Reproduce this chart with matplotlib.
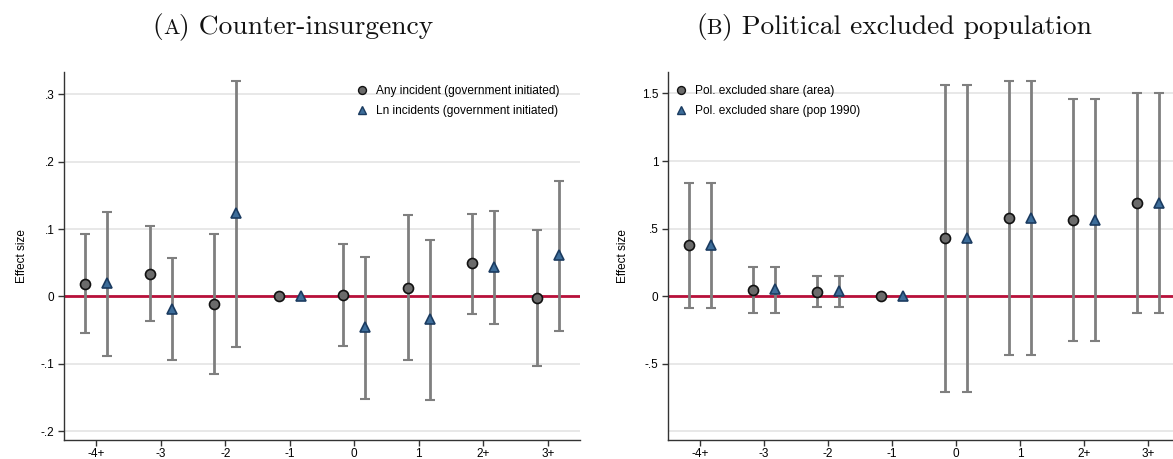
import matplotlib
matplotlib.use("Agg")
import matplotlib.pyplot as plt
import numpy as np
from matplotlib.offsetbox import TextArea, HPacker, AnchoredOffsetbox

# Event-time categories
periods = ["-4+", "-3", "-2", "-1", "0", "1", "2+", "3+"]

# Panel A: counter-insurgency
a_any = [0.019, 0.034, -0.011, 0.0, 0.002, 0.013, 0.049, -0.003]
a_any_lo = [-0.054, -0.036, -0.115, np.nan, -0.073, -0.094, -0.026, -0.103]
a_any_hi = [0.093, 0.105, 0.093, np.nan, 0.078, 0.121, 0.123, 0.098]
a_ln = [0.020, -0.018, 0.124, 0.0, -0.045, -0.034, 0.044, 0.061]
a_ln_lo = [-0.088, -0.095, -0.075, np.nan, -0.152, -0.153, -0.041, -0.051]
a_ln_hi = [0.126, 0.057, 0.320, np.nan, 0.059, 0.084, 0.127, 0.171]

# Panel B: political excluded population
b_area = [0.375, 0.045, 0.034, 0.0, 0.427, 0.577, 0.562, 0.690]
b_area_lo = [-0.086, -0.128, -0.079, np.nan, -0.712, -0.439, -0.330, -0.128]
b_area_hi = [0.836, 0.217, 0.146, np.nan, 1.566, 1.593, 1.457, 1.507]
b_pop = [0.378, 0.050, 0.038, 0.0, 0.430, 0.580, 0.566, 0.693]
b_pop_lo = [-0.086, -0.128, -0.079, np.nan, -0.712, -0.439, -0.330, -0.128]
b_pop_hi = [0.836, 0.217, 0.146, np.nan, 1.566, 1.593, 1.457, 1.507]

a_yticks = [-0.2, -0.1, 0, 0.1, 0.2, 0.3]
a_ylabels = ["-.2", "-.1", "0", ".1", ".2", ".3"]
b_yticks = [-0.5, 0, 0.5, 1, 1.5]
b_ylabels = ["-.5", "0", ".5", "1", "1.5"]
b_grid = [-1.0, -0.5, 0, 0.5, 1, 1.5]

plt.rcParams["font.family"] = ["Liberation Sans", "DejaVu Sans"]

BAR = "#7f7f7f"
ZERO = "#b8103a"
GRID = "#e6e6e6"
CIRC_FACE, CIRC_EDGE = "#6b6b6b", "#111111"
TRI_FACE, TRI_EDGE = "#3d6d9a", "#1b3b60"

fig = plt.figure(figsize=(11.73, 4.59), dpi=100)
axA = fig.add_axes([64 / 1173, 1 - 440 / 459, (580 - 64) / 1173, (440 - 72) / 459])
axB = fig.add_axes([668 / 1173, 1 - 440 / 459, (1180 - 668) / 1173, (440 - 72) / 459])

x = np.arange(len(periods))
off = 0.17


def draw_series(ax, xs, y, lo, hi, marker, face, edge, label, ms):
    y = np.array(y)
    lo = np.array(lo)
    hi = np.array(hi)
    ok = ~np.isnan(lo)
    ax.errorbar(xs[ok], y[ok], yerr=[y[ok] - lo[ok], hi[ok] - y[ok]], fmt="none",
                ecolor=BAR, elinewidth=2, capsize=3.5, capthick=1.5, zorder=3)
    ax.plot(xs, y, linestyle="none", marker=marker, markersize=ms,
            markerfacecolor=face, markeredgecolor=edge, markeredgewidth=1.2,
            zorder=4)
    # proxy handle with a smaller legend marker
    return ax.plot([], [], linestyle="none", marker=marker, markersize=ms - 1.5,
                   markerfacecolor=face, markeredgecolor=edge,
                   markeredgewidth=1.0, label=label)[0]


def style(ax, ylim, grid, ticks, labels):
    ax.set_xlim(-0.5, 7.5)
    ax.set_ylim(*ylim)
    for g in grid:
        ax.axhline(g, color=GRID, lw=1.3, zorder=0)
    ax.axhline(0, color=ZERO, lw=2, zorder=2)
    ax.set_yticks(ticks)
    ax.set_yticklabels(labels)
    ax.set_xticks(x)
    ax.set_xticklabels(periods)
    for s in ["top", "right"]:
        ax.spines[s].set_visible(False)
    for s in ["left", "bottom"]:
        ax.spines[s].set_color("#333333")
        ax.spines[s].set_linewidth(1.0)
    ax.tick_params(axis="both", direction="out", length=4.5, width=1,
                   color="#333333", labelsize=8.5)
    ax.tick_params(axis="x", pad=1.0)
    ax.tick_params(axis="y", pad=2.5)
    ax.set_ylabel("Effect size", fontsize=8.5, labelpad=9)


LEG = dict(frameon=False, fontsize=8.6, handletextpad=0.7, labelspacing=0.7,
           handlelength=1.0, borderaxespad=0.2)

style(axA, (-0.213, 0.333), a_yticks, a_yticks, a_ylabels)
hA1 = draw_series(axA, x - off, a_any, a_any_lo, a_any_hi, "o", CIRC_FACE, CIRC_EDGE,
                  "Any incident (government initiated)", 7.2)
hA2 = draw_series(axA, x + off, a_ln, a_ln_lo, a_ln_hi, "^", TRI_FACE, TRI_EDGE,
                  "Ln incidents (government initiated)", 7.8)
axA.legend(handles=[hA1, hA2], loc="upper right", bbox_to_anchor=(0.975, 0.985), **LEG)

style(axB, (-1.065, 1.659), b_grid, b_yticks, b_ylabels)
hB1 = draw_series(axB, x - off, b_area, b_area_lo, b_area_hi, "o", CIRC_FACE, CIRC_EDGE,
                  "Pol. excluded share (area)", 7.2)
hB2 = draw_series(axB, x + off, b_pop, b_pop_lo, b_pop_hi, "^", TRI_FACE, TRI_EDGE,
                  "Pol. excluded share (pop 1990)", 7.8)
axB.legend(handles=[hB1, hB2], loc="upper left", bbox_to_anchor=(0.0, 0.985), **LEG)


def small_caps_title(cx, cy, letter, rest):
    tp = dict(fontfamily="cmr10", fontsize=19.8, color="#111111")
    sp = dict(fontfamily="cmr10", fontsize=15.8, color="#111111")
    parts = [TextArea("(", textprops=tp), TextArea(letter, textprops=sp),
             TextArea(") " + rest, textprops=tp)]
    box = HPacker(children=parts, align="baseline", pad=0, sep=0)
    ab = AnchoredOffsetbox(loc="center", child=box, frameon=False,
                           bbox_to_anchor=(cx, cy), bbox_transform=fig.transFigure,
                           pad=0, borderpad=0)
    fig.add_artist(ab)


small_caps_title(293 / 1173, 1 - 27 / 459, "A", "Counter-insurgency")
small_caps_title(894 / 1173, 1 - 27 / 459, "B", "Political excluded population")

fig.savefig("out.png", dpi=100)
